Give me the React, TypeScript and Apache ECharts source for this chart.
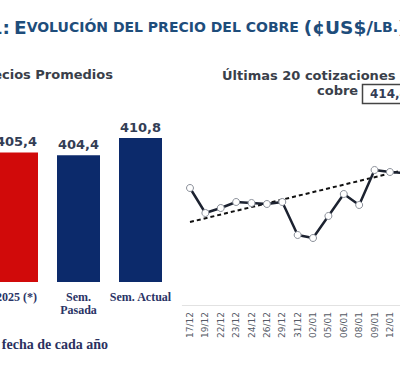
import React, { useEffect, useRef } from "react";
import * as echarts from "echarts";

// Left chart: average prices
const barCategories = ["2025 (*)", "Sem.\nPasada", "Sem. Actual"];
const barValues = [405.4, 404.4, 410.8];
const barColors = ["#d10a0a", "#0c2a6b", "#0c2a6b"];

// Right chart: last quotes (visible part)
const quoteDates = [
  "17/12", "19/12", "22/12", "23/12", "24/12", "26/12", "29/12", "31/12",
  "02/01", "05/01", "06/01", "08/01", "09/01", "12/01", "13/01",
];
const quoteValues = [
  404.8, 394.8, 396.8, 399.2, 398.8, 398.4, 399.2, 386.0,
  384.8, 393.6, 402.4, 398.0, 412.0, 411.2, 410.8,
];
// Trend line end points (first and last category)
const trendValues = [
  391.2, null, null, null, null, null, null, null,
  null, null, null, null, null, null, 412.1,
];
const lastQuoteText = "414,4";

const fmt = (v: number) => v.toFixed(1).replace(".", ",");

// the chart canvas starts OX px left of the visible window
const OX = 20;

export default function App() {
  const ref = useRef<HTMLDivElement>(null);
  useEffect(() => {
    if (!ref.current) return;
    const chart = echarts.init(ref.current, null, { renderer: "svg" });
    const bold = "DejaVu Sans";
    const titleRich = {
      b: { fontFamily: bold, fontWeight: "bold", fontSize: 18.5, fill: "#1e4d7b" },
      s: { fontFamily: bold, fontWeight: "bold", fontSize: 14, fill: "#1e4d7b" },
    };
    chart.setOption({
      animation: false,
      backgroundColor: "#ffffff",
      grid: [
        { left: OX - 14.5, width: 186, top: 100, bottom: 90 },
        { left: OX + 182.3, width: 230.7, top: 150, bottom: 67 },
      ],
      xAxis: [
        {
          type: "category",
          gridIndex: 0,
          data: barCategories,
          axisLine: { show: false },
          axisTick: { show: false },
          axisLabel: {
            interval: 0,
            hideOverlap: false,
            margin: 8,
            fontFamily: "Liberation Serif",
            fontWeight: "bold",
            fontSize: 12,
            lineHeight: 13,
            color: "#2a3466",
          },
        },
        {
          type: "category",
          gridIndex: 1,
          data: quoteDates,
          boundaryGap: true,
          axisLine: { lineStyle: { color: "#e2e2e2", width: 1 } },
          axisTick: { show: false },
          axisLabel: {
            rotate: 90,
            margin: 7,
            fontFamily: "DejaVu Sans",
            fontSize: 9,
            color: "#555a66",
            interval: 0,
          },
        },
      ],
      yAxis: [
        { type: "value", gridIndex: 0, min: 357, max: 425, show: false },
        { type: "value", gridIndex: 1, min: 358, max: 420, show: false },
      ],
      series: [
        {
          type: "bar",
          xAxisIndex: 0,
          yAxisIndex: 0,
          barWidth: 43,
          data: barValues.map((v, i) => ({
            value: v,
            itemStyle: { color: barColors[i] },
          })),
          label: {
            show: true,
            position: "top",
            distance: 4,
            fontFamily: bold,
            fontWeight: "bold",
            fontSize: 13,
            color: "#333d55",
            formatter: (p: any) => fmt(p.value),
          },
        },
        {
          type: "line",
          xAxisIndex: 1,
          yAxisIndex: 1,
          data: trendValues,
          connectNulls: true,
          symbol: "none",
          lineStyle: { color: "#111111", width: 2, type: [4, 3] },
          z: 3,
        },
        {
          type: "line",
          xAxisIndex: 1,
          yAxisIndex: 1,
          data: quoteValues,
          symbol: "circle",
          symbolSize: 7,
          lineStyle: { color: "#1c2230", width: 2.5 },
          itemStyle: { color: "#ffffff", borderColor: "#8a8f99", borderWidth: 1 },
          z: 4,
        },
      ],
      graphic: [
        {
          type: "text",
          x: OX + 10,
          y: 27,
          style: {
            text: "{b|G}{s|RÁFICO} {b|1:}",
            align: "right",
            verticalAlign: "middle",
            fill: "#1e4d7b",
            rich: titleRich,
          },
        },
        {
          type: "text",
          x: OX + 14,
          y: 27,
          style: {
            text: "{b|E}{s|VOLUCIÓN DEL PRECIO DEL COBRE }{b|(¢US$/}{s|LB.}{b|)}",
            align: "left",
            verticalAlign: "middle",
            fill: "#1e4d7b",
            rich: titleRich,
          },
        },
        {
          type: "text",
          x: OX + 113,
          y: 74,
          style: {
            text: "Precios Promedios",
            align: "right",
            verticalAlign: "middle",
            fontFamily: bold,
            fontWeight: "bold",
            fontSize: 13,
            fill: "#3a3f4a",
          },
        },
        {
          type: "text",
          x: OX + 222,
          y: 75,
          style: {
            text: "Últimas 20 cotizaciones del",
            align: "left",
            verticalAlign: "middle",
            fontFamily: bold,
            fontWeight: "bold",
            fontSize: 13,
            fill: "#3a3f4a",
          },
        },
        {
          type: "text",
          x: OX + 317,
          y: 90,
          style: {
            text: "cobre",
            align: "left",
            verticalAlign: "middle",
            fontFamily: bold,
            fontWeight: "bold",
            fontSize: 13,
            fill: "#3a3f4a",
          },
        },
        {
          type: "rect",
          shape: { x: OX + 362.5, y: 84.5, width: 60, height: 19 },
          style: { fill: "#ffffff", stroke: "#444444", lineWidth: 1.5 },
        },
        {
          type: "text",
          x: OX + 370,
          y: 94,
          style: {
            text: lastQuoteText,
            align: "left",
            verticalAlign: "middle",
            fontFamily: bold,
            fontWeight: "bold",
            fontSize: 12,
            fill: "#333d55",
          },
        },
        {
          type: "text",
          x: OX + 108,
          y: 344,
          style: {
            text: "(*) Promedio a igual fecha de cada año",
            align: "right",
            verticalAlign: "middle",
            fontFamily: "Liberation Serif",
            fontWeight: "bold",
            fontSize: 14,
            fill: "#2b3160",
          },
        },
      ],
    });
    return () => chart.dispose();
  }, []);
  return (
    <div
      style={{ position: "absolute", left: 0, top: 0, width: 400, height: 372, overflow: "hidden", background: "#fff" }}
    >
      <div
        ref={ref}
        style={{ position: "absolute", left: -OX, top: 0, width: 460, height: 372 }}
      />
    </div>
  );
}
